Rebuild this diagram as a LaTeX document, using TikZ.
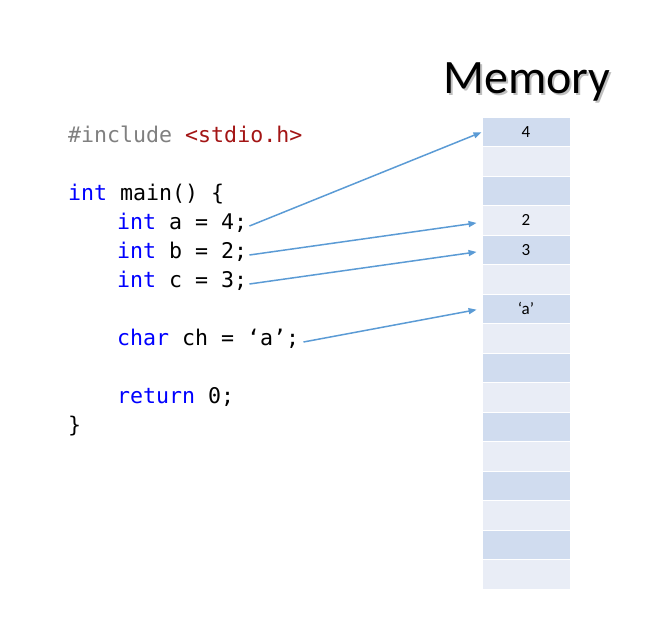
\documentclass[tikz,border=0pt]{standalone}
\usepackage{fontspec}
\setmonofont{DejaVu Sans Mono}
\newfontfamily\calib{Carlito}
\usetikzlibrary{arrows.meta}

\definecolor{kwblue}{RGB}{0,0,255}
\definecolor{ppgray}{RGB}{128,128,128}
\definecolor{strred}{RGB}{163,21,21}
\definecolor{ptrblue}{RGB}{91,155,213}
\definecolor{celldark}{RGB}{208,220,239}
\definecolor{celllight}{RGB}{233,237,246}

\newcommand{\shadowtext}[1]{\makebox[0pt][l]{\hspace{2pt}\raisebox{-2pt}{\textcolor{black!25}{#1}}}#1}

\tikzset{
  code/.style={anchor=west, inner xsep=2pt, inner ysep=0pt, text height=1ex, text depth=0pt,
    font=\ttfamily\fontsize{21.6}{26}\selectfont},
  cell/.style={draw=white, line width=1pt, minimum width=88pt, minimum height=29.5pt},
  val/.style={font=\calib\fontsize{17}{20}\selectfont, inner sep=0pt},
  ptr/.style={-{Triangle[length=8pt,width=6pt]}, draw=ptrblue, line width=1.5pt}
}

\begin{document}
\begin{tikzpicture}[x=1pt, y=-1pt]
\useasboundingbox (0,0) rectangle (672,624);

% Titulo com sombra
\node[font=\calib\fontsize{48}{56}\selectfont] (title) at (527,83) {\shadowtext{Memory}};

% Celulas da memoria
\foreach \i in {0,...,15} {
  \ifodd\i
    \node[cell, fill=celllight] (m\i) at (526,131.75+29.5*\i) {};
  \else
    \node[cell, fill=celldark] (m\i) at (526,131.75+29.5*\i) {};
  \fi
}

% Valores guardados
\node[val] (v0) at (m0) {4};
\node[val] (v3) at (m3) {2};
\node[val] (v4) at (m4) {3};
\node[val] (v6) at (m6) {‘a’};

% Codigo, uma linha por no
\node[code] (inc) at (66,140) {\textcolor{ppgray}{\#include} \textcolor{strred}{<stdio.h>}};
\node[code] (main) at (66,198) {\textcolor{kwblue}{int} main() \{};
\node[code] (la) at (115,227) {\textcolor{kwblue}{int} a = 4;};
\node[code] (lb) at (115,256) {\textcolor{kwblue}{int} b = 2;};
\node[code] (lc) at (115,285) {\textcolor{kwblue}{int} c = 3;};
\node[code, inner xsep=4pt] (lch) at (113,343) {\textcolor{kwblue}{char} ch = ‘a’;};
\node[code] (ret) at (115,401) {\textcolor{kwblue}{return} 0;};
\node[code] (close) at (66,430) {\}};

% Setas para as celulas
\draw[ptr] ([yshift=1pt]la.east) -- ([yshift=-0.5pt]m0.west);
\draw[ptr, shorten >=5pt] ([yshift=1pt]lb.east) -- ([yshift=-2pt]m3.west);
\draw[ptr, shorten >=5pt] ([yshift=1pt]lc.east) -- ([yshift=-1.5pt]m4.west);
\draw[ptr, shorten >=5pt] ([yshift=1pt]lch.east) -- (m6.west);

\end{tikzpicture}
\end{document}
